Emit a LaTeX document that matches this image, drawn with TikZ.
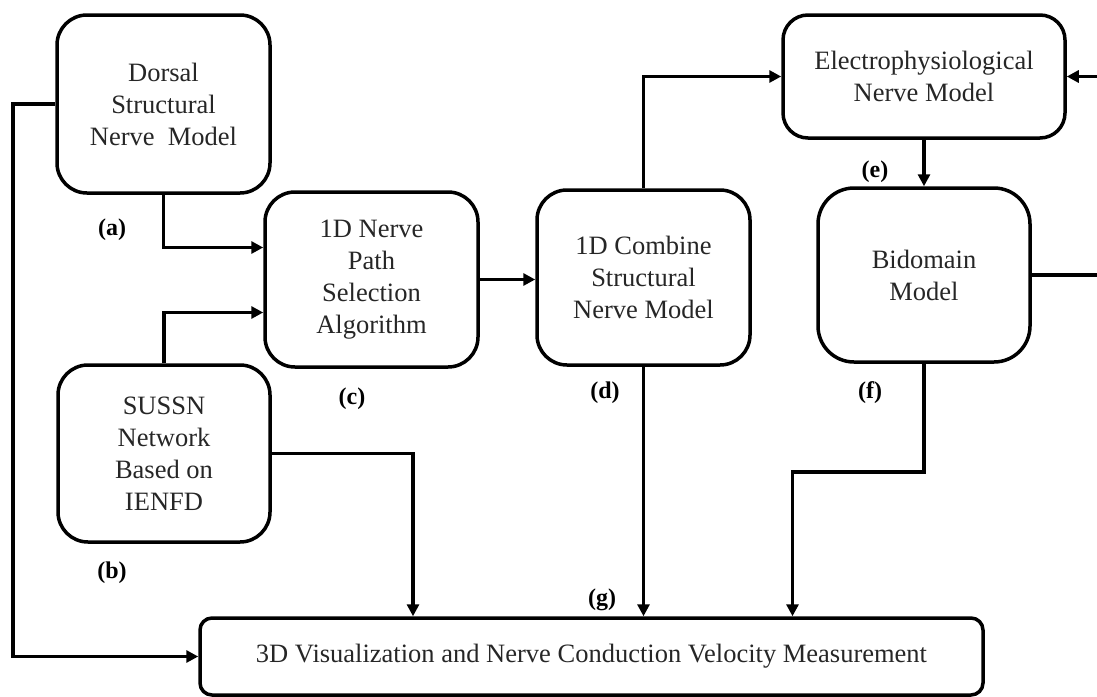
\documentclass[tikz,border=0pt]{standalone}
\usepackage{fontspec}
\setmainfont{Liberation Serif}
\usetikzlibrary{calc}
\usetikzlibrary{arrows.meta}

\begin{document}
\begin{tikzpicture} [x=1pt, y=-1pt,
  box/.style={draw, line width=3.5pt, rounded corners=30pt, align=center, inner sep=0pt, text=black!85, font=\fontsize{26.5}{32}\selectfont},
  tag/.style={font=\fontsize{24}{28}\selectfont\bfseries},
  link/.style={line width=3.5pt, -{Triangle[length=12pt, width=12pt]}}]
\useasboundingbox (0,0) rectangle (1097,696);

\node[box, minimum width=213pt, minimum height=178pt] (dorsal) at (163.5,104) {Dorsal\\Structural\\Nerve~~Model};
\node[box, minimum width=212pt, minimum height=177pt] (sussn) at (164,453.5) {SUSSN\\Network\\Based on\\IENFD};
\node[box, minimum width=213pt, minimum height=175pt] (path) at (371.5,279.5) {1D Nerve\\Path\\Selection\\Algorithm};
\node[box, minimum width=213pt, minimum height=175pt] (comb) at (643.5,277.5) {1D Combine\\Structural\\Nerve Model};
\node[box, minimum width=282pt, minimum height=123pt, rounded corners=25pt] (elec) at (924,76.5) {Electrophysiological\\Nerve Model};
\node[box, minimum width=212pt, minimum height=174pt, rounded corners=36pt] (bido) at (924,275) {Bidomain\\Model};
\node[box, minimum width=783pt, minimum height=77pt, rounded corners=12pt] (vis) at (591.5,656.5) {3D Visualization and Nerve Conduction Velocity Measurement};

\node[tag] (la) at (112,230) {(a)};
\node[tag] (lb) at (112,573) {(b)};
\node[tag] (lc) at (352,399) {(c)};
\node[tag] (ld) at (605,393) {(d)};
\node[tag] (le) at (875,172) {(e)};
\node[tag] (lf) at (870,393) {(f)};
\node[tag] (lg) at (602,600) {(g)};

\coordinate (lft) at (13,0);
\coordinate (rgt) at (1110,0);

\draw[link] (dorsal.west) -- (dorsal.west -| lft) |- (vis.west);
\draw[link] (dorsal.south) |- ($(path.west)+(0,-32)$);
\draw[link] (sussn.north) |- ($(path.west)+(0,33)$);
\draw[link] (path.east) -- (path.east -| comb.west);
\draw[link] (comb.north) |- (elec.west);
\draw[link] (elec.south) -- (bido.north);
\draw[link] (bido.east) -- (bido.east -| rgt) |- (elec.east);
\draw[link] (bido.south) -- ++(0,108) -| ($(vis.north)+(201,0)$);
\draw[link] (comb.south) -- (comb.south |- vis.north);
\draw[link] (sussn.east) -| ($(vis.north)+(-178.5,0)$);
\end{tikzpicture}
\end{document}
